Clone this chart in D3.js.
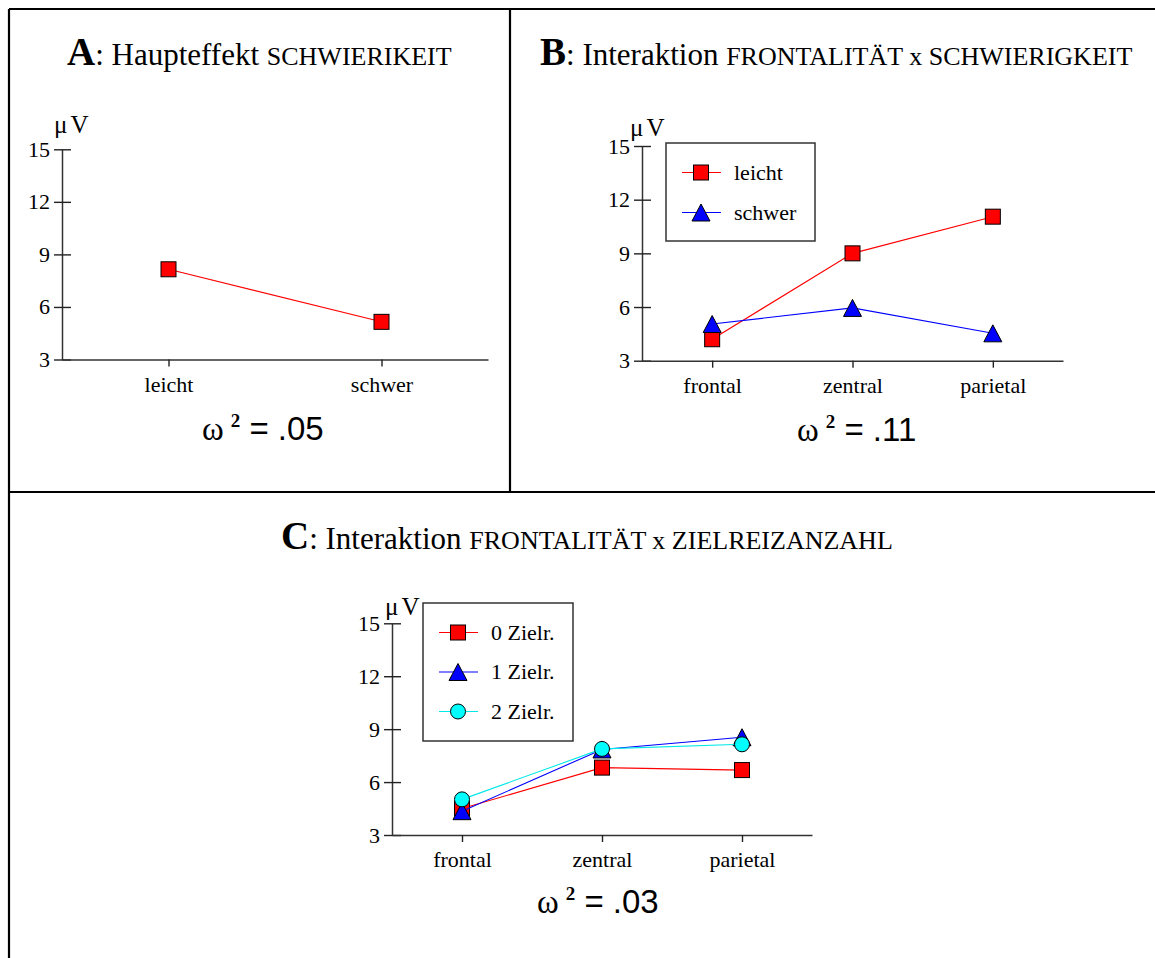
<!DOCTYPE html>
<html>
<head>
<meta charset="utf-8">
<script src="https://cdn.jsdelivr.net/npm/d3@7"></script>
<style>
  body { margin: 0; background: #fff; }
  svg { display: block; }
  text { font-family: "Liberation Serif", "Times New Roman", serif; fill: #000; }
</style>
</head>
<body>
<div id="chart"></div>
<script>
// data (µV)
var yTicks = [3, 6, 9, 12, 15];
var difficultyCats = ["leicht", "schwer"];
var difficultyValues = [8.15, 5.15];
var regionCats = ["frontal", "zentral", "parietal"];
var leichtValues = [4.2, 9.0, 11.05];
var schwerValues = [5.05, 5.95, 4.53];
var zielr0Values = [4.5, 6.82, 6.68];
var zielr1Values = [4.35, 7.85, 8.54];
var zielr2Values = [5.02, 7.88, 8.14];

var svg = d3.select("#chart").append("svg")
  .attr("width", 1155)
  .attr("height", 958);

// panel frame
var frame = [
  [9, 9, 9, 958],
  [9, 9, 1155, 9],
  [510, 9, 510, 492],
  [9, 492, 1155, 492]
];
svg.selectAll("line.frame").data(frame).enter().append("line")
  .attr("class", "frame")
  .attr("x1", function(d){ return d[0]; })
  .attr("y1", function(d){ return d[1]; })
  .attr("x2", function(d){ return d[2]; })
  .attr("y2", function(d){ return d[3]; })
  .attr("stroke", "#000")
  .attr("stroke-width", 2.2);

function drawTitle(x, y, letter, word, caps){
  var t = svg.append("text").attr("x", x).attr("y", y);
  t.append("tspan").attr("font-weight", "bold").attr("font-size", 39).text(letter);
  t.append("tspan").attr("font-size", 31).text(": " + word + " ");
  t.append("tspan").attr("font-size", 26).text(caps);
}

function drawOmega(x, y, value){
  var t = svg.append("text").attr("x", x).attr("y", y).attr("font-size", 33);
  t.append("tspan").text("\u03c9");
  t.append("tspan").attr("dx", 7).attr("dy", -13).attr("font-size", 19)
    .attr("font-weight", "bold").text("2");
  t.append("tspan").attr("dy", 13)
    .style("font-family", "'Liberation Sans', Arial, sans-serif")
    .text(" = " + value);
}

function marker(sel, shape, color){
  if(shape == "square"){
    sel.append("rect").attr("x", -7.5).attr("y", -7.5)
      .attr("width", 15).attr("height", 15);
  } else if(shape == "triangle"){
    sel.append("path").attr("d", "M0,-8.5L9,8.5L-9,8.5Z");
  } else {
    sel.append("circle").attr("r", 7.5);
  }
  sel.selectAll("rect,path,circle")
    .attr("fill", color)
    .attr("stroke", "#000")
    .attr("stroke-width", 1);
}

function drawPanel(cfg){
  var x = d3.scalePoint().domain(cfg.cats).range(cfg.xRange).padding(0.5);
  var y = d3.scaleLinear().domain([3, 15]).range(cfg.yRange);
  var g = svg.append("g");

  var yAxis = g.append("g")
    .attr("transform", "translate(" + cfg.xRange[0] + ",0)")
    .call(d3.axisLeft(y).tickValues(yTicks).tickSizeInner(8).tickSizeOuter(0).tickPadding(4));
  yAxis.selectAll(".tick").append("line").attr("x2", 9).attr("stroke", "#222");

  var xAxis = g.append("g")
    .attr("transform", "translate(0," + cfg.yRange[0] + ")")
    .call(d3.axisBottom(x).tickSizeInner(7).tickSizeOuter(0).tickPadding(9.5));

  g.selectAll(".domain").attr("stroke", "#333").attr("stroke-width", 1.5);
  g.selectAll(".tick line").attr("stroke", "#222").attr("stroke-width", 1.4);
  g.selectAll(".tick text")
    .attr("font-family", "'Liberation Serif', 'Times New Roman', serif")
    .attr("font-size", 22)
    .attr("fill", "#000");
  yAxis.attr("font-size", null).attr("font-family", null);
  xAxis.attr("font-size", null).attr("font-family", null);

  // unit label
  var u = g.append("text").attr("x", cfg.unit[0]).attr("y", cfg.unit[1]).attr("font-size", 25);
  u.append("tspan").text("\u03bc");
  u.append("tspan").attr("dx", 3).text("V");

  // legend box
  if(cfg.legend){
    var L = cfg.legend;
    g.append("rect")
      .attr("x", L.x).attr("y", L.y)
      .attr("width", L.w).attr("height", L.h)
      .attr("fill", "#fff").attr("stroke", "#333").attr("stroke-width", 1.5);
    cfg.series.forEach(function(s, i){
      var ey = L.y + L.first + i * L.step;
      g.append("line")
        .attr("x1", L.x + 16).attr("x2", L.x + 55)
        .attr("y1", ey).attr("y2", ey)
        .attr("stroke", s.color).attr("stroke-width", 1);
      marker(g.append("g").attr("transform", "translate(" + (L.x + 35) + "," + ey + ")"), s.shape, s.fill);
      g.append("text").attr("x", L.x + 68).attr("y", ey).attr("dy", "0.33em")
        .attr("font-size", 22).text(s.name);
    });
  }

  var line = d3.line()
    .x(function(d, i){ return x(cfg.cats[i]); })
    .y(function(d){ return y(d); });

  cfg.series.forEach(function(s){
    g.append("path")
      .datum(s.values)
      .attr("d", line)
      .attr("fill", "none")
      .attr("stroke", s.color)
      .attr("stroke-width", 1.1);
    g.selectAll(null).data(s.values).enter().append("g")
      .attr("transform", function(d, i){ return "translate(" + x(cfg.cats[i]) + "," + y(d) + ")"; })
      .each(function(){ marker(d3.select(this), s.shape, s.fill); });
  });
}

// Panel A
drawTitle(67, 65, "A", "Haupteffekt", "SCHWIERIKEIT");
drawPanel({
  cats: difficultyCats,
  xRange: [62, 488],
  yRange: [359.5, 149.3],
  unit: [54, 133],
  series: [
    { name: "leicht", values: difficultyValues, color: "#ff0000", fill: "#ff0000", shape: "square" }
  ]
});
drawOmega(202, 440, ".05");

// Panel B
drawTitle(540, 65, "B", "Interaktion", "FRONTALIT\u00c4T x SCHWIERIGKEIT");
drawPanel({
  cats: regionCats,
  xRange: [642, 1063],
  yRange: [360.7, 146],
  unit: [630, 136],
  legend: { x: 666, y: 143, w: 149, h: 98, first: 29.5, step: 40 },
  series: [
    { name: "leicht", values: leichtValues, color: "#ff0000", fill: "#ff0000", shape: "square" },
    { name: "schwer", values: schwerValues, color: "#0000ff", fill: "#0000ff", shape: "triangle" }
  ]
});
drawOmega(797, 441, ".11");

// Panel C
drawTitle(281, 549, "C", "Interaktion", "FRONTALIT\u00c4T x ZIELREIZANZAHL");
drawPanel({
  cats: regionCats,
  xRange: [392, 812],
  yRange: [835, 623.3],
  unit: [385, 615],
  legend: { x: 423, y: 603, w: 150, h: 138, first: 29.5, step: 39.5 },
  series: [
    { name: "0 Zielr.", values: zielr0Values, color: "#ff0000", fill: "#ff0000", shape: "square" },
    { name: "1 Zielr.", values: zielr1Values, color: "#0000ff", fill: "#0000ff", shape: "triangle" },
    { name: "2 Zielr.", values: zielr2Values, color: "#00e8e8", fill: "#00ffff", shape: "circle" }
  ]
});
drawOmega(537, 913, ".03");
</script>
</body>
</html>
